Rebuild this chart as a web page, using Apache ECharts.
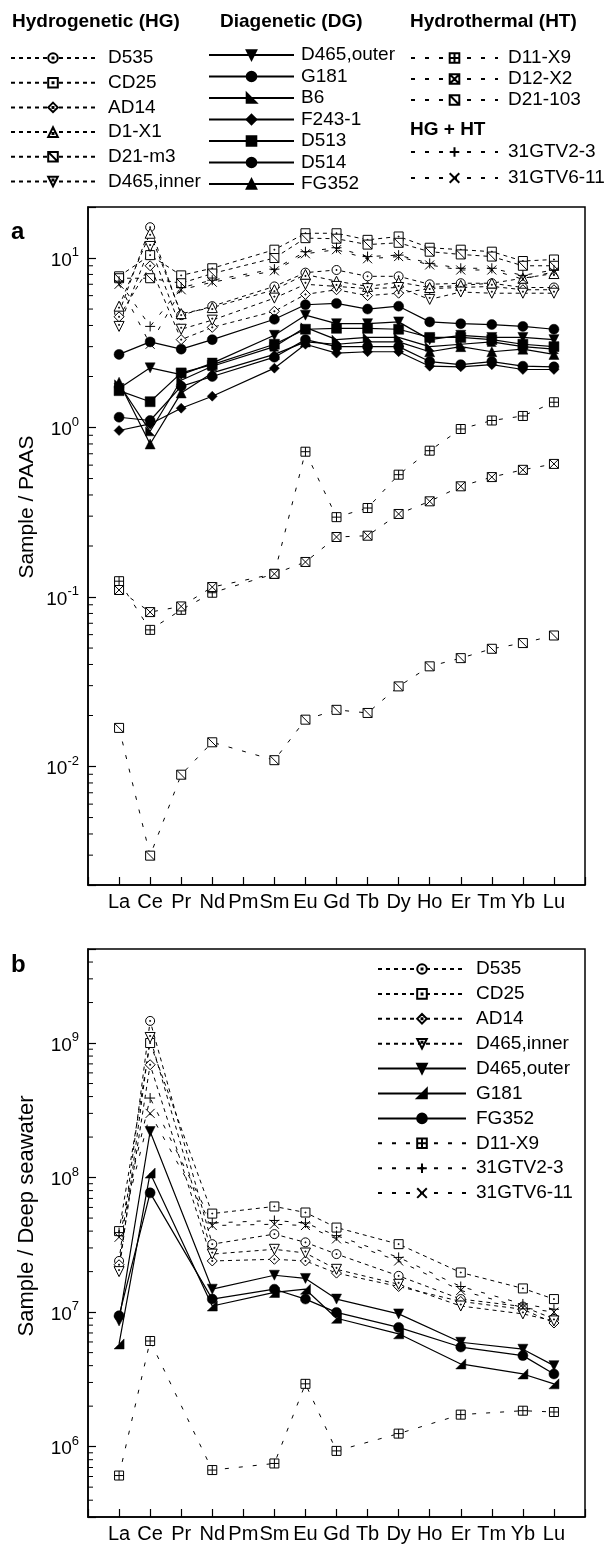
<!DOCTYPE html>
<html><head><meta charset="utf-8">
<script src="https://cdn.jsdelivr.net/npm/echarts@6/dist/echarts.min.js"></script>
<style>html,body{margin:0;padding:0;background:#fff}#c{width:613px;height:1544px}</style>
</head><body><div id="c"></div>
<script>
const FONT = '"Liberation Sans", Arial, Helvetica, sans-serif';

// ---------- categories ----------
const axisCategories = [' ', 'La','Ce','Pr','Nd','Pm','Sm','Eu','Gd','Tb','Dy','Ho','Er','Tm','Yb','Lu', '  '];
const elementsA = ['La','Ce','Pr','Nd','Sm','Eu','Gd','Tb','Dy','Ho','Er','Tm','Yb','Lu'];
const elementsB = ['La','Ce','Nd','Sm','Eu','Gd','Dy','Er','Yb','Lu'];

// ---------- panel a : Sample / PAAS ----------
const a_D535    = [4.75, 15.2, 4.6, 5.2, 6.8, 8.2, 8.5, 7.8, 7.8, 7.0, 7.1, 7.1, 6.7, 6.7];
const a_CD25    = [7.8, 10.4, 7.9, 8.7, 11.2, 14.0, 14.0, 12.8, 13.4, 11.5, 11.2, 10.9, 9.6, 9.8];
const a_AD14    = [4.5, 9.0, 3.3, 3.9, 4.85, 6.1, 6.5, 6.0, 6.2, 6.6, 6.7, 6.8, 6.5, 6.5];
const a_D1X1    = [5.2, 14.0, 4.7, 5.1, 6.5, 8.0, 7.3, 6.8, 7.2, 6.7, 6.9, 7.1, 7.6, 8.1];
const a_D21m3   = [7.6, 7.6, 7.1, 8.1, 10.0, 13.1, 13.0, 12.0, 12.3, 10.9, 10.5, 10.2, 9.0, 9.0];
const a_D465in  = [3.95, 11.7, 3.8, 4.3, 5.8, 7.0, 6.8, 6.6, 6.7, 5.7, 6.3, 6.2, 6.2, 6.2];
const a_D465out = [1.7, 2.25, 2.05, 2.4, 3.5, 4.6, 4.1, 4.1, 4.2, 3.3, 3.5, 3.4, 3.4, 3.3];
const a_G181    = [2.7, 3.2, 2.9, 3.3, 4.35, 5.3, 5.4, 5.0, 5.2, 4.2, 4.1, 4.05, 3.95, 3.8];
const a_B6      = [1.8, 0.95, 1.9, 2.3, 3.0, 3.9, 3.3, 3.4, 3.4, 3.0, 3.1, 3.2, 3.0, 2.9];
const a_F2431   = [0.96, 1.05, 1.3, 1.53, 2.24, 3.1, 2.75, 2.8, 2.8, 2.3, 2.28, 2.35, 2.2, 2.2];
const a_D513    = [1.65, 1.42, 2.1, 2.35, 3.1, 3.8, 3.85, 3.85, 3.8, 3.4, 3.4, 3.3, 3.1, 3.0];
const a_D514    = [1.15, 1.1, 1.75, 2.0, 2.6, 3.3, 3.0, 3.0, 3.0, 2.45, 2.35, 2.45, 2.3, 2.28];
const a_FG352   = [1.85, 0.8, 1.6, 2.1, 2.7, 3.2, 3.1, 3.2, 3.2, 2.8, 3.0, 2.8, 2.9, 2.7];
const a_D11X9   = [0.124, 0.064, 0.084, 0.106, 0.137, 0.72, 0.296, 0.335, 0.527, 0.73, 0.98, 1.10, 1.17, 1.41];
const a_D12X2   = [0.110, 0.0815, 0.088, 0.1145, 0.137, 0.161, 0.226, 0.23, 0.309, 0.367, 0.45, 0.51, 0.563, 0.61];
const a_D21103  = [0.0169, 0.00298, 0.00895, 0.0139, 0.0109, 0.0189, 0.0216, 0.0207, 0.0297, 0.039, 0.0436, 0.0495, 0.0535, 0.0593];
const a_GTV23   = [7.3, 3.95, 6.7, 7.4, 8.6, 10.9, 11.5, 10.2, 10.4, 9.3, 8.7, 8.7, 7.9, 8.5];
const a_GTV611  = [7.0, 3.1, 6.5, 7.2, 8.4, 10.6, 11.2, 9.9, 10.2, 9.1, 8.5, 8.5, 7.5, 8.3];

// ---------- panel b : Sample / Deep seawater ----------
const b_D535    = [2.4e7, 1.46e9, 3.2e7, 3.8e7, 3.3e7, 2.7e7, 1.86e7, 1.25e7, 1.1e7, 8.9e6];
const b_CD25    = [4.0e7, 1.0e9, 5.4e7, 6.1e7, 5.5e7, 4.25e7, 3.2e7, 1.97e7, 1.5e7, 1.25e7];
const b_AD14    = [2.25e7, 6.9e8, 2.4e7, 2.47e7, 2.4e7, 1.95e7, 1.55e7, 1.2e7, 1.05e7, 8.3e6];
const b_D465in  = [2.0e7, 1.1e9, 2.7e7, 2.93e7, 2.75e7, 2.08e7, 1.61e7, 1.11e7, 9.7e6, 8.6e6];
const b_D465out = [8.6e6, 2.2e8, 1.48e7, 1.88e7, 1.78e7, 1.25e7, 9.7e6, 5.97e6, 5.3e6, 4.0e6];
const b_G181    = [5.8e6, 1.08e8, 1.11e7, 1.4e7, 1.48e7, 9.0e6, 6.9e6, 4.12e6, 3.47e6, 2.93e6];
const b_FG352   = [9.4e6, 7.7e7, 1.25e7, 1.48e7, 1.25e7, 9.95e6, 7.7e6, 5.5e6, 4.75e6, 3.47e6];
const b_D11X9   = [6.1e5, 6.1e6, 6.7e5, 7.5e5, 2.93e6, 9.3e5, 1.25e6, 1.73e6, 1.85e6, 1.81e6];
const b_GTV23   = [3.9e7, 3.9e8, 4.6e7, 4.8e7, 4.6e7, 3.7e7, 2.55e7, 1.55e7, 1.15e7, 1.05e7];
const b_GTV611  = [3.6e7, 3.0e8, 4.4e7, 4.5e7, 4.4e7, 3.5e7, 2.4e7, 1.45e7, 1.08e7, 1.0e7];

// ---------- axis ticks ----------
const yTicksA = [0.01, 0.1, 1, 10];
const yTickExpA = ['-2', '-1', '0', '1'];
const yTicksB = [1e6, 1e7, 1e8, 1e9];
const yTickExpB = ['6', '7', '8', '9'];
const minorTicksA = [0.003,0.004,0.005,0.006,0.007,0.008,0.009,
  0.02,0.03,0.04,0.05,0.06,0.07,0.08,0.09,
  0.2,0.3,0.4,0.5,0.6,0.7,0.8,0.9,
  2,3,4,5,6,7,8,9];
const minorTicksB = [4e5,5e5,6e5,7e5,8e5,9e5,
  2e6,3e6,4e6,5e6,6e6,7e6,8e6,9e6,
  2e7,3e7,4e7,5e7,6e7,7e7,8e7,9e7,
  2e8,3e8,4e8,5e8,6e8,7e8,8e8,9e8,
  2e9,3e9,4e9];

// ---------- symbols ----------
const CIRC = 'M50,0C77.6,0 100,22.4 100,50C100,77.6 77.6,100 50,100C22.4,100 0,77.6 0,50C0,22.4 22.4,0 50,0Z';
const DOT = 'M45,45H55V55H45Z';
const SYM = {
  circleDot: 'path://' + CIRC + DOT,
  squareDot: 'path://M0,0H100V100H0Z' + DOT,
  diamondDot: 'path://M50,0L100,50L50,100L0,50Z' + DOT,
  triUpDot: 'path://M50,0L100,100L0,100Z M45,60H55V70H45Z',
  triDownDot: 'path://M0,0L100,0L50,100Z M45,30H55V40H45Z',
  squareDiag: 'path://M0,0H100V100H0Z M0,0L100,100',
  squarePlus: 'path://M0,0H100V100H0Z M50,0V100 M0,50H100',
  squareX: 'path://M0,0H100V100H0Z M0,0L100,100 M100,0L0,100',
  plus: 'path://M50,0V100 M0,50H100',
  cross: 'path://M0,0L100,100 M100,0L0,100',
  triDown: 'path://M0,0L100,0L50,100Z',
  halfTriL: 'path://M0,0L100,100L0,100Z',
  halfTriR: 'path://M100,0L100,100L0,100Z'
};

const HG = { line: { color: '#000', width: 1, type: [4, 4] }, item: { color: '#fff', borderColor: '#000', borderWidth: 1 } };
const DG = { line: { color: '#000', width: 1.2, type: 'solid' }, item: { color: '#000', borderColor: '#000', borderWidth: 0.5 } };
const HT = { line: { color: '#000', width: 1, type: [4, 10] }, item: { color: '#fff', borderColor: '#000', borderWidth: 1 } };

function mk(name, elements, values, style, symbol, size, gi) {
  return {
    type: 'line', name: name, xAxisIndex: gi, yAxisIndex: gi,
    data: elements.map((e, i) => [e, values[i]]),
    symbol: symbol, symbolSize: size,
    lineStyle: style.line, itemStyle: style.item,
    emphasis: { disabled: true }, animation: false, connectNulls: true, clip: false
  };
}
function minorSeries(vals, gi) {
  return {
    type: 'custom', name: '_minor' + gi, xAxisIndex: gi, yAxisIndex: gi, silent: true, animation: false, clip: false,
    data: vals.map(v => [0, v]),
    renderItem: (params, api) => {
      const p = api.coord([0, api.value(1)]);
      return { type: 'line', shape: { x1: p[0], y1: p[1], x2: p[0] + 5, y2: p[1] }, style: { stroke: '#000', lineWidth: 1 } };
    }
  };
}
function tickFormatter(ticks, exps) {
  return v => {
    const i = ticks.findIndex(t => Math.abs(Math.log10(t) - Math.log10(v)) < 1e-6);
    return i < 0 ? '' : '{b|10}{s|' + exps[i] + '}';
  };
}
const tickRich = {
  b: { fontSize: 19, fontFamily: FONT, color: '#000', padding: [5, 0, 0, 0] },
  s: { fontSize: 13, fontFamily: FONT, color: '#000', verticalAlign: 'top' }
};

const series = [
  mk('D535', elementsA, a_D535, HG, SYM.circleDot, 9, 0),
  mk('CD25', elementsA, a_CD25, HG, SYM.squareDot, 9, 0),
  mk('AD14', elementsA, a_AD14, HG, SYM.diamondDot, 10, 0),
  mk('D1-X1', elementsA, a_D1X1, HG, SYM.triUpDot, 10, 0),
  mk('D21-m3', elementsA, a_D21m3, HG, SYM.squareDiag, 9, 0),
  mk('D465,inner', elementsA, a_D465in, HG, SYM.triDownDot, 10, 0),
  mk('D465,outer', elementsA, a_D465out, DG, SYM.triDown, 10, 0),
  mk('G181', elementsA, a_G181, DG, 'circle', 10, 0),
  mk('B6', elementsA, a_B6, DG, SYM.halfTriL, 9, 0),
  mk('F243-1', elementsA, a_F2431, DG, 'diamond', 10, 0),
  mk('D513', elementsA, a_D513, DG, 'rect', 10, 0),
  mk('D514', elementsA, a_D514, DG, 'circle', 10, 0),
  mk('FG352', elementsA, a_FG352, DG, 'triangle', 10, 0),
  mk('D11-X9', elementsA, a_D11X9, HT, SYM.squarePlus, 9, 0),
  mk('D12-X2', elementsA, a_D12X2, HT, SYM.squareX, 9, 0),
  mk('D21-103', elementsA, a_D21103, HT, SYM.squareDiag, 9, 0),
  mk('31GTV2-3', elementsA, a_GTV23, HT, SYM.plus, 10, 0),
  mk('31GTV6-11', elementsA, a_GTV611, HT, SYM.cross, 9, 0),

  mk('D535 (b)', elementsB, b_D535, HG, SYM.circleDot, 9, 1),
  mk('CD25 (b)', elementsB, b_CD25, HG, SYM.squareDot, 9, 1),
  mk('AD14 (b)', elementsB, b_AD14, HG, SYM.diamondDot, 10, 1),
  mk('D465,inner (b)', elementsB, b_D465in, HG, SYM.triDownDot, 10, 1),
  mk('D465,outer (b)', elementsB, b_D465out, DG, SYM.triDown, 10, 1),
  mk('G181 (b)', elementsB, b_G181, DG, SYM.halfTriR, 10, 1),
  mk('FG352 (b)', elementsB, b_FG352, DG, 'circle', 10, 1),
  mk('D11-X9 (b)', elementsB, b_D11X9, HT, SYM.squarePlus, 9, 1),
  mk('31GTV2-3 (b)', elementsB, b_GTV23, HT, SYM.plus, 10, 1),
  mk('31GTV6-11 (b)', elementsB, b_GTV611, HT, SYM.cross, 9, 1),

  minorSeries(minorTicksA, 0),
  minorSeries(minorTicksB, 1)
];

function legend(data, left, top, itemWidth, gap, pad) {
  return {
    data: data, orient: 'vertical', left: left, top: top, padding: 0,
    itemWidth: itemWidth, itemHeight: 12, itemGap: gap, selectedMode: false,
    formatter: n => n.replace(' (b)', ''),
    textStyle: { fontSize: 19, lineHeight: 20, fontFamily: FONT, color: '#000', padding: [0, 0, 0, pad] }
  };
}

function xAx(gi) {
  return {
    gridIndex: gi, type: 'category', data: axisCategories, boundaryGap: false,
    axisLine: { lineStyle: { color: '#000', width: 1.5 } },
    axisTick: { inside: true, length: 8, interval: 0, lineStyle: { color: '#000', width: 1.2 } },
    axisLabel: { interval: 0, color: '#000', fontSize: 20, fontFamily: FONT, margin: 7 },
    splitLine: { show: false }
  };
}
function yAx(gi, min, max, ticks, exps) {
  return {
    gridIndex: gi, type: 'log', logBase: 10, min: min, max: max,
    axisLine: { show: true, lineStyle: { color: '#000', width: 1.5 } },
    axisTick: { show: true, inside: true, length: 8, lineStyle: { color: '#000', width: 1.2 } },
    axisLabel: { formatter: tickFormatter(ticks, exps), rich: tickRich, margin: 9 },
    splitLine: { show: false }, minorTick: { show: false }
  };
}

const hdr = (t, x, y) => ({ type: 'text', x: x, y: y, style: { text: t, font: 'bold 19px ' + FONT, fill: '#000', textVerticalAlign: 'middle', verticalAlign: 'middle' } });

const option = {
  backgroundColor: '#fff',
  animation: false,
  grid: [
    { left: 88, top: 207, width: 497, height: 678, show: true, borderColor: '#000', borderWidth: 1.5, backgroundColor: 'transparent' },
    { left: 88, top: 949, width: 497, height: 569, show: true, borderColor: '#000', borderWidth: 1.5, backgroundColor: 'transparent' }
  ],
  xAxis: [xAx(0), xAx(1)],
  yAxis: [yAx(0, 0.002, 20, yTicksA, yTickExpA), yAx(1, 3e5, 5e9, yTicksB, yTickExpB)],
  legend: [
    legend(['D535', 'CD25', 'AD14', 'D1-X1', 'D21-m3', 'D465,inner'], 10, 48, 84, 4.7, 8),
    legend(['D465,outer', 'G181', 'B6', 'F243-1', 'D513', 'D514', 'FG352'], 208, 45, 85, 1.5, 2),
    legend(['D11-X9', 'D12-X2', 'D21-103'], 410, 48, 87, 1, 5),
    legend(['31GTV2-3', '31GTV6-11'], 410, 142, 87, 6, 5),
    legend(['D535 (b)', 'CD25 (b)', 'AD14 (b)', 'D465,inner (b)', 'D465,outer (b)', 'G181 (b)', 'FG352 (b)', 'D11-X9 (b)', '31GTV2-3 (b)', '31GTV6-11 (b)'], 377, 959, 88, 4.9, 5)
  ],
  graphic: [
    hdr('Hydrogenetic (HG)', 12, 22),
    hdr('Diagenetic (DG)', 220, 22),
    hdr('Hydrothermal (HT)', 410, 22),
    hdr('HG + HT', 410, 130),
    { type: 'text', x: 11, y: 232, style: { text: 'a', font: 'bold 24px ' + FONT, fill: '#000', textVerticalAlign: 'middle', verticalAlign: 'middle' } },
    { type: 'text', x: 11, y: 965, style: { text: 'b', font: 'bold 24px ' + FONT, fill: '#000', textVerticalAlign: 'middle', verticalAlign: 'middle' } },
    { type: 'text', x: 27, y: 507, rotation: Math.PI / 2, style: { text: 'Sample / PAAS', font: '21px ' + FONT, fill: '#000', textAlign: 'center', align: 'center', textVerticalAlign: 'middle', verticalAlign: 'middle' } },
    { type: 'text', x: 27, y: 1216, rotation: Math.PI / 2, style: { text: 'Sample / Deep seawater', font: '22px ' + FONT, fill: '#000', textAlign: 'center', align: 'center', textVerticalAlign: 'middle', verticalAlign: 'middle' } }
  ],
  series: series
};

const chart = echarts.init(document.getElementById('c'), null, { renderer: 'canvas' });
chart.setOption(option);
</script>
</body></html>
